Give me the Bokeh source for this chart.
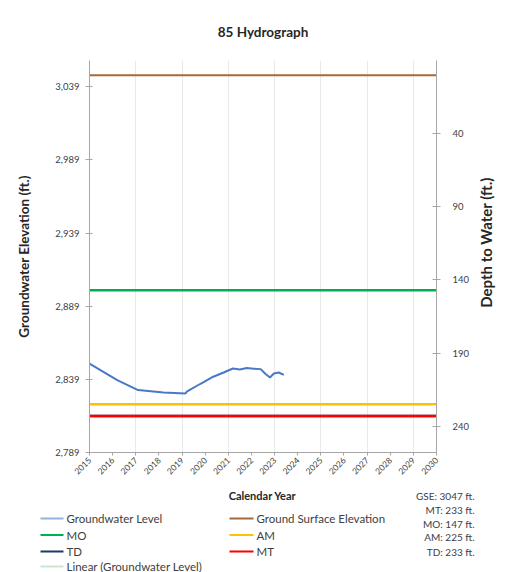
import math
from bokeh.plotting import figure
from bokeh.layouts import column, row
from bokeh.models import (Range1d, LinearAxis, FixedTicker, NumeralTickFormatter, Title)
from bokeh.core.properties import value
from bokeh.embed import file_html
from bokeh.resources import INLINE

# ---------------- data ----------------
gse = 3047
mo_depth = 147
am_depth = 225
mt_depth = 233
td_depth = 233

gw_years = [2015.0, 2016.2, 2017.1, 2018.2, 2019.15, 2019.22, 2019.8, 2020.35, 2020.8,
            2021.2, 2021.5, 2021.8, 2022.1, 2022.4, 2022.6, 2022.8, 2022.97, 2023.18, 2023.4]
gw_elev = [2849.8, 2838.5, 2831.7, 2830.1, 2829.4, 2830.8, 2836.0, 2840.8, 2843.7,
           2846.4, 2845.8, 2846.7, 2846.3, 2846.0, 2842.8, 2840.3, 2843.0, 2843.7, 2842.1]

year_ticks = list(range(2015, 2031))
grid_years = [2017, 2019, 2021, 2023, 2025, 2027, 2029]
elev_ticks = [2789, 2839, 2889, 2939, 2989, 3039]
depth_ticks = [40, 90, 140, 190, 240]
x_start, x_end = 2015, 2030
y_start, y_end = 2789, 3057

legend_names = ["Groundwater Level", "Ground Surface Elevation", "MO", "AM", "TD", "MT",
                "Linear (Groundwater Level)"]
legend_colors = ["#8fb3d9", "#a5693a", "#00b050", "#ffc000", "#1f3864", "#ff0000", "#c9e8c9"]
info_lines = ["GSE: 3047 ft.", "MT: 233 ft.", "MO: 147 ft.", "AM: 225 ft.", "TD: 233 ft."]

FONT = "Lato"
TXT = "#404040"
DARK = "#262626"
AX = "#a6a6a6"

W = 508
MAIN_W = 478
MAIN_H = 488
LEG_H = 84

p = figure(width=MAIN_W, height=MAIN_H, output_backend="svg", toolbar_location=None,
           x_range=Range1d(x_start, x_end), y_range=Range1d(y_start, y_end),
           min_border_left=89, min_border_right=MAIN_W - 436, min_border_top=59,
           min_border_bottom=36, x_axis_location=None, y_axis_location=None)
p.outline_line_color = None
p.background_fill_color = "white"
p.border_fill_color = "white"

t = Title(text="85 Hydrograph", align="center", text_font=FONT, text_font_size="13.5px",
          text_font_style="bold", text_color=DARK, standoff=42)
p.add_layout(t, "above")

# grids
p.ygrid.visible = False
p.xgrid.ticker = FixedTicker(ticks=grid_years)
p.xgrid.grid_line_color = "#e9e9e9"
p.xgrid.grid_line_width = 1

# axes
xa = LinearAxis(ticker=FixedTicker(ticks=year_ticks))
xa.major_label_orientation = math.pi / 4
xa.major_label_text_font = FONT
xa.major_label_text_font_size = "8.5px"
xa.major_label_text_color = TXT
xa.major_label_standoff = 3
xa.axis_line_color = AX
xa.major_tick_line_color = AX
xa.major_tick_out = 3
xa.major_tick_in = 0
xa.minor_tick_line_color = None
p.add_layout(xa, "below")

ya = LinearAxis(ticker=FixedTicker(ticks=elev_ticks), formatter=NumeralTickFormatter(format="0,0"))
ya.axis_label = "Groundwater Elevation (ft.)"
ya.axis_label_text_font = FONT
ya.axis_label_text_font_size = "13.5px"
ya.axis_label_text_font_style = "bold"
ya.axis_label_text_color = DARK
ya.axis_label_standoff = 20
ya.major_label_text_font = FONT
ya.major_label_text_font_size = "9.5px"
ya.major_label_text_color = TXT
ya.major_label_standoff = 6
ya.axis_line_color = AX
ya.major_tick_line_color = AX
ya.major_tick_out = 4
ya.major_tick_in = 3
ya.minor_tick_line_color = None
p.add_layout(ya, "left")

p.extra_y_ranges = {"depth": Range1d(gse - y_start, gse - y_end)}
ra = LinearAxis(y_range_name="depth", ticker=FixedTicker(ticks=depth_ticks))
ra.major_label_text_font = FONT
ra.major_label_text_font_size = "9.5px"
ra.major_label_text_color = TXT
ra.major_label_standoff = 12
ra.axis_line_color = AX
ra.major_tick_line_color = AX
ra.major_tick_out = 4
ra.major_tick_in = 4
ra.minor_tick_line_color = None
p.add_layout(ra, "right")

# reference lines
xs = [x_start, x_end]
p.line(xs, [gse, gse], line_color=legend_colors[1], line_width=2)
p.line(xs, [gse - mo_depth] * 2, line_color=legend_colors[2], line_width=2.5)
p.line(xs, [gse - am_depth] * 2, line_color=legend_colors[3], line_width=2.5)
p.line(xs, [gse - td_depth] * 2, line_color=legend_colors[4], line_width=2.5)
p.line(xs, [gse - mt_depth] * 2, line_color=legend_colors[5], line_width=2.5)

# groundwater
p.line(gw_years, gw_elev, line_color="#4a78c8", line_width=2)

# ---------------- right-axis title strip (pixel coordinates, y up) ----------------
r = figure(width=W - MAIN_W, height=MAIN_H, output_backend="svg", toolbar_location=None,
           x_range=Range1d(MAIN_W, W), y_range=Range1d(0, MAIN_H),
           min_border=0, min_border_left=0, min_border_right=0,
           min_border_top=0, min_border_bottom=0,
           x_axis_location=None, y_axis_location=None)
r.outline_line_color = None
r.grid.visible = False
r.background_fill_color = "white"
r.border_fill_color = "white"
r.text(x=[485], y=[MAIN_H - 242], text=["Depth to Water (ft.)"], angle=math.pi / 2,
       text_font=value(FONT), text_font_size=value("15px"), text_font_style="bold",
       text_color=DARK, text_align="center", text_baseline="middle")

# ---------------- legend / info strip (pixel coordinates, y down) ----------------
top = MAIN_H
q = figure(width=W, height=LEG_H, output_backend="svg", toolbar_location=None,
           x_range=Range1d(0, W), y_range=Range1d(top + LEG_H, top),
           min_border=0, min_border_left=0, min_border_right=0,
           min_border_top=0, min_border_bottom=0,
           x_axis_location=None, y_axis_location=None)
q.outline_line_color = None
q.grid.visible = False
q.background_fill_color = "white"
q.border_fill_color = "white"

q.text(x=[262], y=[495], text=["Calendar Year"], text_font=value(FONT),
       text_font_size=value("11px"), text_font_style="bold", text_color=DARK,
       text_align="center", text_baseline="middle")

col_line = [(40, 63), (229, 253)]
col_text = [66, 256]
row_y = [518, 534.5, 551, 566]
slots = [(0, 0), (1, 0), (0, 1), (1, 1), (0, 2), (1, 2), (0, 3)]
lx0 = [col_line[c][0] for c, rr in slots]
lx1 = [col_line[c][1] for c, rr in slots]
ly = [row_y[rr] for c, rr in slots]
ltx = [col_text[c] for c, rr in slots]
q.segment(x0=lx0, y0=ly, x1=lx1, y1=ly, line_color=legend_colors, line_width=2)
q.text(x=ltx, y=ly, text=legend_names, text_font=value(FONT), text_font_size=value("11.5px"),
       text_color=TXT, text_align="left", text_baseline="middle")

info_y = [495, 509, 523, 536.5, 551]
q.text(x=[474] * len(info_lines), y=info_y, text=info_lines, text_font=value(FONT),
       text_font_size=value("10px"), text_color=TXT, text_align="right", text_baseline="middle")

layout = column(row(p, column(r, spacing=0), spacing=0), column(q, spacing=0), spacing=0)
open("out.html", "w").write(file_html(layout, INLINE))
